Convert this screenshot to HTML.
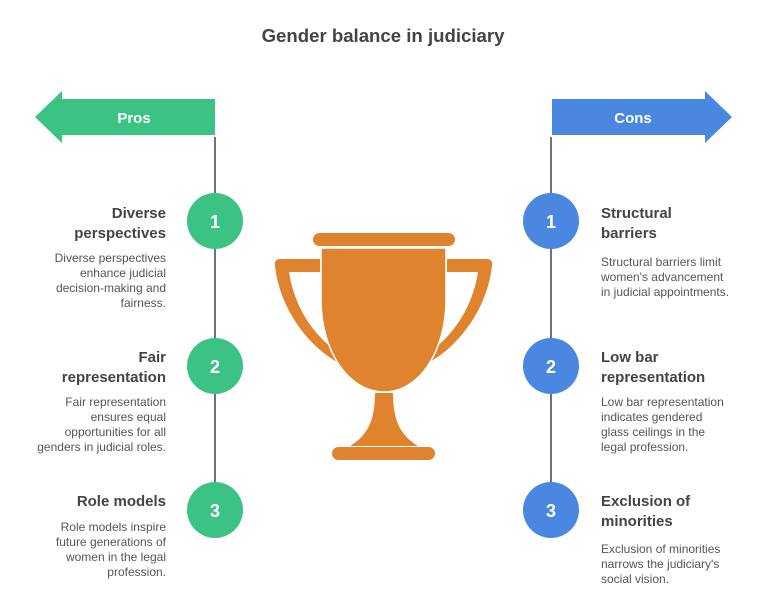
<!DOCTYPE html>
<html><head><meta charset="utf-8"><style>
body{margin:0;background:#fff}
svg{display:block;font-family:"Liberation Sans",Arial,sans-serif}
.t{font-size:15px;font-weight:bold;fill:#444}
.d{font-size:12px;fill:#555}
.n{font-size:18px;font-weight:bold;fill:#fff}
</style></head><body>
<svg width="762" height="612" viewBox="0 0 762 612">
<text x="383" y="42" text-anchor="middle" font-size="18.6" font-weight="bold" fill="#444">Gender balance in judiciary</text>
<line x1="215" y1="137" x2="215" y2="484" stroke="#444" stroke-width="1.5"/>
<line x1="551" y1="137" x2="551" y2="484" stroke="#444" stroke-width="1.5"/>
<polygon points="215,99 62,99 62,91 35,117 62,143 62,135 215,135" fill="#3cc383"/>
<text x="134" y="123" text-anchor="middle" font-size="15" font-weight="bold" fill="#fff">Pros</text>
<polygon points="552,99 705,99 705,91 732,117 705,143 705,135 552,135" fill="#4a87e1"/>
<text x="633" y="123" text-anchor="middle" font-size="15" font-weight="bold" fill="#fff">Cons</text>
<g>
<circle cx="215" cy="221" r="28" fill="#3cc383"/><text class="n" x="215" y="228" text-anchor="middle">1</text>
<circle cx="215" cy="366" r="28" fill="#3cc383"/><text class="n" x="215" y="373" text-anchor="middle">2</text>
<circle cx="215" cy="510" r="28" fill="#3cc383"/><text class="n" x="215" y="517" text-anchor="middle">3</text>
<circle cx="551" cy="221" r="28" fill="#4a87e1"/><text class="n" x="551" y="228" text-anchor="middle">1</text>
<circle cx="551" cy="366" r="28" fill="#4a87e1"/><text class="n" x="551" y="373" text-anchor="middle">2</text>
<circle cx="551" cy="510" r="28" fill="#4a87e1"/><text class="n" x="551" y="517" text-anchor="middle">3</text>
</g>
<g text-anchor="end">
<text class="t" x="166" y="218">Diverse</text>
<text class="t" x="166" y="238">perspectives</text>
<text class="d" x="166" y="262">Diverse perspectives</text>
<text class="d" x="166" y="277">enhance judicial</text>
<text class="d" x="166" y="292">decision-making and</text>
<text class="d" x="166" y="307">fairness.</text>
<text class="t" x="166" y="362">Fair</text>
<text class="t" x="166" y="382">representation</text>
<text class="d" x="166" y="406">Fair representation</text>
<text class="d" x="166" y="421">ensures equal</text>
<text class="d" x="166" y="436">opportunities for all</text>
<text class="d" x="166" y="451">genders in judicial roles.</text>
<text class="t" x="166" y="506">Role models</text>
<text class="d" x="166" y="531">Role models inspire</text>
<text class="d" x="166" y="546">future generations of</text>
<text class="d" x="166" y="561">women in the legal</text>
<text class="d" x="166" y="576">profession.</text>
</g>
<g>
<text class="t" x="601" y="218">Structural</text>
<text class="t" x="601" y="238">barriers</text>
<text class="d" x="601" y="266">Structural barriers limit</text>
<text class="d" x="601" y="281">women's advancement</text>
<text class="d" x="601" y="296">in judicial appointments.</text>
<text class="t" x="601" y="362">Low bar</text>
<text class="t" x="601" y="382">representation</text>
<text class="d" x="601" y="406">Low bar representation</text>
<text class="d" x="601" y="421">indicates gendered</text>
<text class="d" x="601" y="436">glass ceilings in the</text>
<text class="d" x="601" y="451">legal profession.</text>
<text class="t" x="601" y="506">Exclusion of</text>
<text class="t" x="601" y="526">minorities</text>
<text class="d" x="601" y="553">Exclusion of minorities</text>
<text class="d" x="601" y="568">narrows the judiciary's</text>
<text class="d" x="601" y="583">social vision.</text>
</g>
<g fill="#e0832f">
<rect x="313" y="233" width="142" height="13" rx="6.5"/>
<path d="M320,259 L280,259 Q274,259 275,266 C280,310 310,350 345,366 L339,353 C312,335 294,305 289,272 L320,272 Z"/>
<path d="M447,259 L487,259 Q493,259 492,266 C487,310 457,350 422,366 L428,353 C455,335 473,305 478,272 L447,272 Z"/>
<path d="M321,248 L446,248 L446,300 C446,350 420,392 384,392 C348,392 321,350 321,300 Z" stroke="#fff" stroke-width="1.5"/>
<path d="M375,393 L393,393 C393,420 400,435 418,446 L350,446 C368,435 375,420 375,393 Z"/>
<rect x="332" y="447" width="103" height="13" rx="6.5"/>
</g>
</svg>
</body></html>
